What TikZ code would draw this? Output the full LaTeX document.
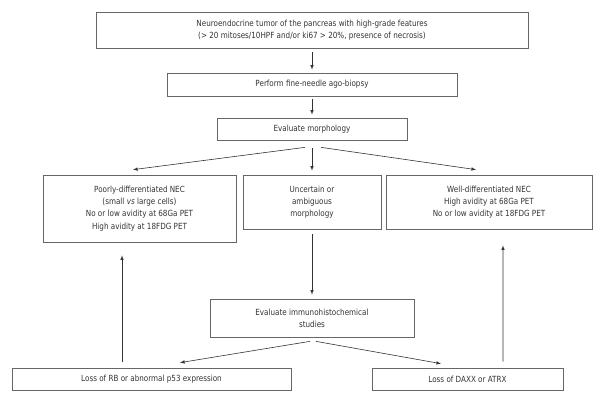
\documentclass[tikz,border=0pt]{standalone}
\usepackage{fontspec}
\setmainfont{DejaVu Sans}[FakeStretch=0.85]
\usepackage{tikz}
\usetikzlibrary{arrows}
\usetikzlibrary{calc}

\begin{document}
\begin{tikzpicture}[x=1bp,y=-1bp,
	box/.style={draw=black!60,line width=0.7bp,align=center,inner sep=0pt,text=black!80,font=\fontsize{8.5}{12.3}\selectfont},
	arr/.style={-latex,draw=black!80,line width=0.6bp}]
	\useasboundingbox (0,0) rectangle (600,403);

	\node[box,minimum width=432bp,minimum height=36bp](tumor) at (312,30.5) {Neuroendocrine tumor of the pancreas with high-grade features\\(> 20 mitoses/10HPF and/or ki67 > 20\%, presence of necrosis)};
	\node[box,minimum width=290bp,minimum height=23bp](biopsy) at (312,84.5) {Perform fine-needle ago-biopsy};
	\node[box,minimum width=190bp,minimum height=22bp](morph) at (312,129) {Evaluate morphology};
	\node[box,minimum width=193bp,minimum height=67bp](poorly) at (139.5,208.5) {Poorly-differentiated NEC\\(small \textit{vs} large cells)\\No or low avidity at 68Ga PET\\High avidity at 18FDG PET};
	\node[box,minimum width=138bp,minimum height=54bp](unsure) at (312,202) {Uncertain or\\ambiguous\\morphology};
	\node[box,minimum width=206bp,minimum height=54bp](well) at (489,202) {Well-differentiated NEC\\High avidity at 68Ga PET\\No or low avidity at 18FDG PET};
	\node[box,minimum width=204bp,minimum height=38bp](ihc) at (312,318) {Evaluate immunohistochemical\\studies};
	\node[box,minimum width=279bp,minimum height=22bp](rb) at (151.5,379) {Loss of RB or abnormal p53 expression};
	\node[box,minimum width=191bp,minimum height=22bp](daxx) at (467.5,379) {Loss of DAXX or ATRX};

	\draw[arr] ($(tumor.south)+(0,3)$) -- ($(biopsy.north)+(0,-3)$);
	\draw[arr] ($(biopsy.south)+(0,3)$) -- ($(morph.north)+(0,-3)$);
	\draw[arr] ($(morph.south)+(-7,7)$) -- ($(poorly.north)+(-6.5,-5)$);
	\draw[arr] ($(morph.south)+(0,8)$) -- ($(unsure.north)+(0,-4)$);
	\draw[arr] ($(morph.south)+(9,7)$) -- ($(well.north)+(-13,-5)$);
	\draw[arr] ($(unsure.south)+(0,5)$) -- ($(ihc.north)+(0,-4)$);
	\draw[arr] ($(ihc.south)+(-2,4)$) -- ($(rb.north)+(28.5,-5)$);
	\draw[arr] ($(ihc.south)+(4,4)$) -- ($(daxx.north)+(-26.5,-4)$);
	\draw[arr] ($(rb.north)+(-29.5,-6)$) -- ($(poorly.south)+(-17.5,13)$);
	\draw[arr] ($(daxx.north)+(35.5,-6)$) -- ($(well.south)+(14,16)$);
\end{tikzpicture}
\end{document}
